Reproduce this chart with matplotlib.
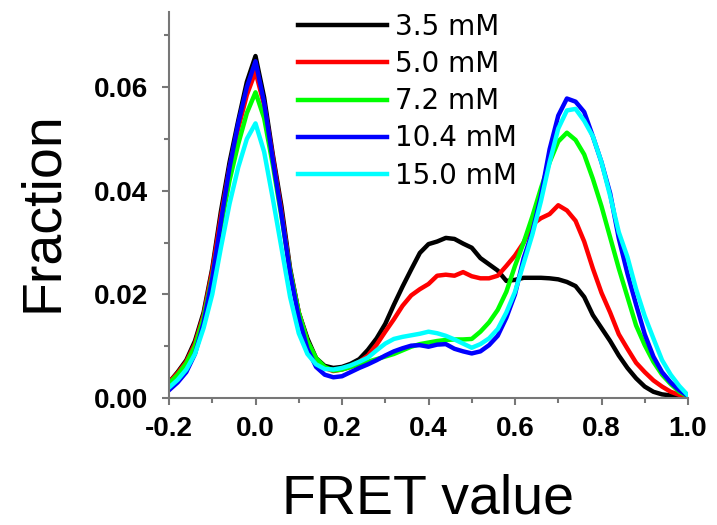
import numpy as np
import matplotlib
matplotlib.use("Agg")
import matplotlib.pyplot as plt
from matplotlib.ticker import MultipleLocator, FixedLocator

# FRET histogram bin centres
fret = np.round(np.arange(-0.20, 1.0001, 0.02), 2)

labels = ["3.5 mM", "5.0 mM", "7.2 mM", "10.4 mM", "15.0 mM"]
colors = ["#000000", "#ff0000", "#00ff00", "#0000ff", "#00ffff"]

frac_3p5 = [0.0030, 0.0050, 0.0073, 0.0110, 0.0165, 0.0250, 0.0360, 0.0455, 0.0535, 0.0610, 0.0660,
            0.0580, 0.0470, 0.0370, 0.0250, 0.0165, 0.0115, 0.0077, 0.0062, 0.0058, 0.0060,
            0.0066, 0.0075, 0.0093, 0.0115, 0.0143, 0.0180, 0.0215, 0.0248, 0.0280, 0.0297,
            0.0302, 0.0309, 0.0307, 0.0298, 0.0290, 0.0270, 0.0258, 0.0246, 0.0226, 0.0228,
            0.0232, 0.0232, 0.0232, 0.0231, 0.0229, 0.0224, 0.0216, 0.0195, 0.0160, 0.0135,
            0.0110, 0.0082, 0.0058, 0.0038, 0.0022, 0.0012, 0.0007, 0.0005, 0.0003, 0.0002]

frac_5p0 = [0.0030, 0.0048, 0.0070, 0.0105, 0.0160, 0.0245, 0.0350, 0.0445, 0.0520, 0.0585, 0.0630,
            0.0565, 0.0465, 0.0360, 0.0245, 0.0165, 0.0110, 0.0075, 0.0058, 0.0052, 0.0055,
            0.0060, 0.0070, 0.0082, 0.0103, 0.0128, 0.0152, 0.0178, 0.0198, 0.0210, 0.0220,
            0.0236, 0.0238, 0.0236, 0.0243, 0.0235, 0.0231, 0.0231, 0.0236, 0.0255, 0.0275,
            0.0300, 0.0335, 0.0347, 0.0355, 0.0372, 0.0362, 0.0342, 0.0302, 0.0250, 0.0203,
            0.0165, 0.0123, 0.0095, 0.0068, 0.0050, 0.0034, 0.0022, 0.0012, 0.0006, 0.0003]

frac_7p2 = [0.0028, 0.0045, 0.0067, 0.0100, 0.0155, 0.0235, 0.0330, 0.0420, 0.0490, 0.0550, 0.0590,
            0.0540, 0.0450, 0.0350, 0.0245, 0.0165, 0.0110, 0.0077, 0.0060, 0.0053, 0.0055,
            0.0060, 0.0065, 0.0070, 0.0075, 0.0080, 0.0085, 0.0092, 0.0099, 0.0104, 0.0107,
            0.0110, 0.0112, 0.0113, 0.0113, 0.0114, 0.0128, 0.0146, 0.0170, 0.0205, 0.0255,
            0.0300, 0.0350, 0.0405, 0.0455, 0.0495, 0.0512, 0.0498, 0.0470, 0.0423, 0.0370,
            0.0310, 0.0250, 0.0195, 0.0140, 0.0102, 0.0070, 0.0045, 0.0027, 0.0012, 0.0003]

frac_10p4 = [0.0015, 0.0030, 0.0050, 0.0085, 0.0145, 0.0230, 0.0340, 0.0445, 0.0530, 0.0600, 0.0650,
             0.0570, 0.0460, 0.0355, 0.0240, 0.0155, 0.0095, 0.0060, 0.0045, 0.0040, 0.0042,
             0.0050, 0.0058, 0.0065, 0.0073, 0.0082, 0.0090, 0.0096, 0.0101, 0.0102, 0.0099,
             0.0103, 0.0104, 0.0095, 0.0090, 0.0086, 0.0090, 0.0102, 0.0120, 0.0155, 0.0200,
             0.0270, 0.0320, 0.0390, 0.0480, 0.0545, 0.0578, 0.0572, 0.0552, 0.0505, 0.0455,
             0.0395, 0.0308, 0.0240, 0.0180, 0.0123, 0.0080, 0.0050, 0.0030, 0.0015, 0.0004]

frac_15p0 = [0.0020, 0.0035, 0.0055, 0.0085, 0.0135, 0.0200, 0.0290, 0.0375, 0.0445, 0.0500, 0.0530,
             0.0475, 0.0385, 0.0290, 0.0195, 0.0125, 0.0085, 0.0065, 0.0056, 0.0055, 0.0058,
             0.0063, 0.0070, 0.0078, 0.0092, 0.0105, 0.0114, 0.0118, 0.0121, 0.0124, 0.0128,
             0.0125, 0.0120, 0.0113, 0.0105, 0.0097, 0.0104, 0.0115, 0.0133, 0.0165, 0.0205,
             0.0260, 0.0315, 0.0380, 0.0455, 0.0520, 0.0555, 0.0558, 0.0535, 0.0505, 0.0455,
             0.0390, 0.0320, 0.0272, 0.0210, 0.0158, 0.0115, 0.0073, 0.0045, 0.0023, 0.0005]

series = [frac_3p5, frac_5p0, frac_7p2, frac_10p4, frac_15p0]

x_major = [-0.2, 0.0, 0.2, 0.4, 0.6, 0.8, 1.0]
x_ticklabels = ["-0.2", "0.0", "0.2", "0.4", "0.6", "0.8", "1.0"]
y_major = [0.00, 0.02, 0.04, 0.06]
y_ticklabels = ["0.00", "0.02", "0.04", "0.06"]

W, H = 717, 525
fig = plt.figure(figsize=(W / 100, H / 100), dpi=100)
ax = fig.add_axes([169 / W, 1 - 398 / H, (688 - 169) / W, (398 - 12) / H])

for y, c, lab in zip(series, colors, labels):
    ax.plot(fret, y, color=c, lw=3.2, label=lab)

ax.set_xlim(-0.2, 1.0)
ax.set_ylim(0.0, 0.0745)

for side in ("top", "right"):
    ax.spines[side].set_visible(False)
spine_col = "#777777"
for side in ("left", "bottom"):
    ax.spines[side].set_color(spine_col)
    ax.spines[side].set_linewidth(1.5)

ax.xaxis.set_major_locator(FixedLocator(x_major))
ax.xaxis.set_minor_locator(MultipleLocator(0.1))
ax.yaxis.set_major_locator(FixedLocator(y_major))
ax.yaxis.set_minor_locator(MultipleLocator(0.01))
ax.set_xticklabels(x_ticklabels)
ax.set_yticklabels(y_ticklabels)

for t in ax.get_xticklabels() + ax.get_yticklabels():
    t.set_fontfamily("Liberation Sans")
    t.set_fontweight("bold")
    t.set_fontsize(20)

ax.tick_params(which="major", direction="out", length=5, width=1.5, color=spine_col)
ax.tick_params(which="minor", direction="out", length=3.5, width=1.5, color=spine_col)
ax.tick_params(axis="x", which="major", pad=8)
ax.tick_params(axis="y", which="major", pad=10)

fig.text(43 / W, 1 - 212 / H, "Fraction", rotation=90, ha="center", va="center",
         family="Liberation Sans", size=40)
fig.text(428 / W, 1 - 514 / H, "FRET value", ha="center", va="baseline",
         family="Liberation Sans", size=40)

ax.legend(loc="upper left", bbox_to_anchor=(298 / W, 1 - 13 / H),
          bbox_transform=fig.transFigure, frameon=False,
          prop=dict(family="DejaVu Sans", size=20),
          handlelength=3.2, handletextpad=0.3, labelspacing=0.33,
          borderpad=0, borderaxespad=0)

fig.savefig("out.png", dpi=100)
